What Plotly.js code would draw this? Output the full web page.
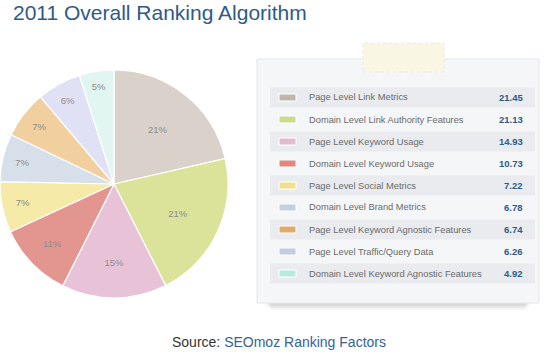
<!DOCTYPE html>
<html><head><meta charset="utf-8">
<script src="https://cdn.plot.ly/plotly-3.0.1.min.js"></script>
<style>html,body{margin:0;padding:0;background:#fff}#chart{width:552px;height:356px}</style>
</head><body><div id="chart"></div>
<script>
const categories = [
  "Page Level Link Metrics",
  "Domain Level Link Authority Features",
  "Page Level Keyword Usage",
  "Domain Level Keyword Usage",
  "Page Level Social Metrics",
  "Domain Level Brand Metrics",
  "Page Level Keyword Agnostic Features",
  "Page Level Traffic/Query Data",
  "Domain Level Keyword Agnostic Features"
];
const values = [21.45, 21.13, 14.93, 10.73, 7.22, 6.78, 6.74, 6.26, 4.92];
const valueLabels = ["21.45", "21.13", "14.93", "10.73", "7.22", "6.78", "6.74", "6.26", "4.92"];
const sliceColors = ["#d9d1ca", "#dbe39b", "#e8c3d8", "#e3968f", "#f5eaa7", "#d6dfea", "#f1cf9f", "#e1e1f6", "#e2f6f1"];
const swatchColors = ["#bfb7ad", "#cdd98c", "#e2bbd1", "#e0877f", "#f1e08b", "#c6cee2", "#e2aa68", "#c5cce1", "#b9e9dd"];

const W = 552, H = 356;
const px = x => x / W;
const py = y => 1 - y / H;

const shapes = [];
const annotations = [];

// panel shadow
[[0.04, 7], [0.05, 5], [0.06, 3]].forEach(([op, d]) => {
  shapes.push({type: 'rect', xref: 'paper', yref: 'paper', x0: px(264 + d), x1: px(532 - d), y0: py(303 + d), y1: py(120),
    fillcolor: '#000', opacity: op, line: {width: 0}, layer: 'below'});
});
// panel
shapes.push({type: 'rect', xref: 'paper', yref: 'paper', x0: px(257), x1: px(539), y0: py(303), y1: py(59),
  fillcolor: '#f5f6f8', line: {color: '#e3e5e9', width: 1}, layer: 'below'});
// tape
shapes.push({type: 'rect', xref: 'paper', yref: 'paper', x0: px(363), x1: px(444), y0: py(72), y1: py(43),
  fillcolor: 'rgba(248,246,226,0.92)', line: {color: 'rgba(236,232,205,0.9)', width: 1, dash: 'dot'}, layer: 'above'});

categories.forEach((c, i) => {
  const yc = 97.5 + i * 22;
  if (i % 2 === 0) {
    shapes.push({type: 'rect', xref: 'paper', yref: 'paper', x0: px(270), x1: px(535), y0: py(yc + 10), y1: py(yc - 10),
      fillcolor: '#e9ebef', line: {width: 0}, layer: 'below'});
  }
  shapes.push({type: 'rect', xref: 'paper', yref: 'paper', x0: px(279), x1: px(296), y0: py(yc + 3.5), y1: py(yc - 3.5),
    fillcolor: swatchColors[i], line: {color: '#ffffff', width: 1}, layer: 'above'});
  annotations.push({xref: 'paper', yref: 'paper', x: px(307), y: py(yc), xanchor: 'left', yanchor: 'middle',
    text: c, showarrow: false, font: {family: 'Liberation Sans, Arial, sans-serif', size: 9.3, color: '#6a6a6a'}});
  annotations.push({xref: 'paper', yref: 'paper', x: px(525), y: py(yc), xanchor: 'right', yanchor: 'middle',
    text: '<b>' + valueLabels[i] + '</b>', showarrow: false, font: {family: 'Liberation Sans, Arial, sans-serif', size: 9.5, color: '#2f5b88'}});
});

annotations.push({xref: 'paper', yref: 'paper', x: px(278.5), y: py(342), xanchor: 'center', yanchor: 'middle', showarrow: false,
  text: 'Source: <span style="color:#34639a">SEOmoz Ranking Factors</span>',
  font: {family: 'Liberation Sans, Arial, sans-serif', size: 14, color: '#333333'}});

const data = [{
  type: 'pie',
  labels: categories,
  values: values,
  sort: false,
  direction: 'clockwise',
  rotation: 0,
  marker: {colors: sliceColors, line: {color: '#ffffff', width: 1.2}},
  texttemplate: '%{percent:.0%}',
  textposition: 'inside',
  insidetextorientation: 'horizontal',
  textfont: {family: 'Liberation Sans, Arial, sans-serif', size: 9.5, color: '#8c8c8c'},
  hoverinfo: 'label+value',
  domain: {x: [0, px(228)], y: [py(298), py(70)]},
  showlegend: false
}];

const layout = {
  width: W, height: H,
  margin: {l: 0, r: 0, t: 0, b: 0},
  paper_bgcolor: '#ffffff',
  title: {text: '2011 Overall Ranking Algorithm', x: px(13), xanchor: 'left', xref: 'paper', y: py(13), yanchor: 'middle', yref: 'paper',
    font: {family: 'Liberation Sans, Arial, sans-serif', size: 21, color: '#2f5a87'}},
  shapes: shapes,
  annotations: annotations,
  showlegend: false
};

Plotly.newPlot('chart', data, layout, {displayModeBar: false, staticPlot: true});
</script>
</body></html>
